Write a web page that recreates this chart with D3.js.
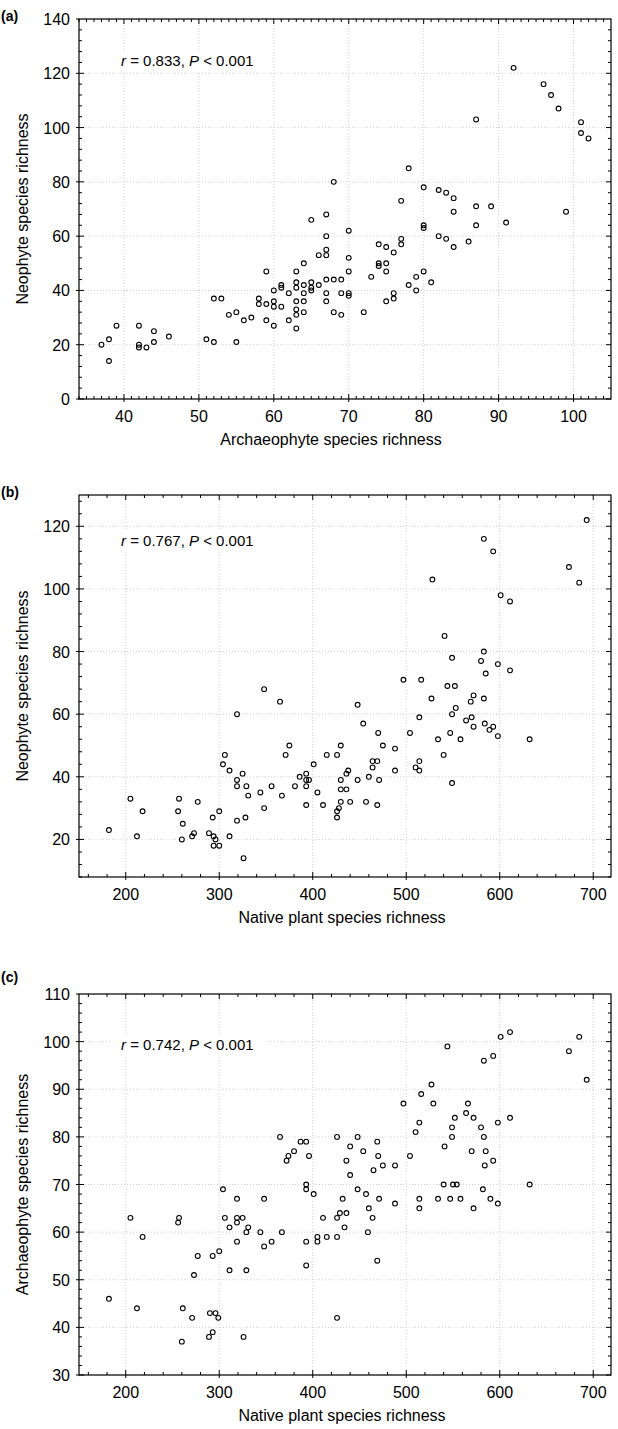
<!DOCTYPE html>
<html>
<head>
<meta charset="utf-8">
<script src="https://cdn.jsdelivr.net/npm/d3@7"></script>
<style>
  body { margin: 0; background: #fff; }
  text { font-family: "Liberation Sans", Arial, sans-serif; fill: #000; }
</style>
</head>
<body>
<div id="chart"></div>
<script>
// (a) archaeophyte vs neophyte richness
const archNeo = [
  [92,122],[96,116],[97,112],[98,107],[101,102],[101,98],[102,96],[87,103],[78,85],[68,80],
  [80,78],[82,77],[83,76],[84,74],[77,73],[87,71],[89,71],[84,69],[99,69],[65,66],
  [67,68],[70,62],[80,64],[80,63],[87,64],[91,65],[82,60],[83,59],[84,56],[86,58],
  [77,59],[77,57],[74,57],[75,56],[76,54],[67,60],[67,55],[67,53],[66,53],[70,52],
  [64,50],[74,50],[74,49],[75,50],[75,47],[70,47],[73,45],[80,47],[79,45],[81,43],
  [78,42],[79,40],[67,44],[68,44],[69,44],[64,42],[65,43],[65,41],[66,42],[64,39],
  [65,40],[67,39],[69,39],[70,39],[70,38],[64,36],[63,36],[67,36],[75,36],[76,39],
  [76,37],[64,32],[68,32],[69,31],[72,32],[59,47],[63,47],[63,43],[63,41],[60,40],
  [61,42],[61,41],[62,39],[58,37],[58,35],[59,35],[60,36],[60,34],[61,34],[59,29],
  [60,27],[62,29],[63,33],[63,31],[63,26],[55,32],[54,31],[56,29],[57,30],[52,37],
  [53,37],[51,22],[52,21],[55,21],[46,23],[44,25],[44,21],[42,27],[42,20],[42,19],
  [43,19],[39,27],[38,22],[37,20],[38,14]
];

// (b) native vs neophyte richness
const nativeNeo = [
  [693,122],[583,116],[593,112],[674,107],[685,102],[528,103],[601,98],[611,96],[541,85],[583,80],
  [549,78],[580,77],[598,76],[585,73],[611,74],[497,71],[516,71],[544,69],[552,69],[527,65],
  [569,64],[572,66],[583,65],[553,62],[549,60],[514,59],[454,57],[448,63],[564,58],[570,59],
  [572,56],[584,57],[593,56],[589,55],[598,53],[547,54],[534,52],[558,52],[632,52],[504,54],
  [470,54],[475,50],[488,49],[430,50],[415,47],[426,47],[540,47],[464,45],[469,45],[464,43],
  [401,44],[438,42],[436,41],[488,42],[510,43],[514,45],[514,42],[460,40],[448,39],[471,39],
  [549,38],[430,39],[430,36],[436,36],[405,35],[393,41],[393,39],[396,39],[393,37],[393,31],
  [411,31],[430,32],[440,32],[457,32],[469,31],[428,30],[426,29],[426,27],[348,68],[365,64],
  [319,60],[375,50],[371,47],[304,44],[306,47],[311,42],[325,41],[319,39],[319,37],[329,37],
  [331,34],[344,35],[356,37],[367,34],[381,37],[386,40],[348,30],[319,26],[328,27],[293,27],
  [300,29],[326,14],[311,21],[289,22],[294,21],[296,20],[294,18],[300,18],[273,22],[271,21],
  [260,20],[261,25],[256,29],[257,33],[277,32],[205,33],[218,29],[212,21],[182,23]
];

// (c) native vs archaeophyte richness
const nativeArch = [
  [611,102],[601,101],[685,101],[674,98],[693,92],[544,99],[583,96],[593,97],[527,91],[516,89],
  [497,87],[529,87],[566,87],[564,85],[552,84],[572,84],[611,84],[598,83],[549,82],[580,82],
  [514,83],[510,81],[549,80],[583,80],[426,80],[448,80],[387,79],[393,79],[440,78],[469,79],
  [454,77],[541,78],[570,77],[585,77],[396,76],[470,76],[504,76],[436,75],[593,75],[584,74],
  [465,73],[475,74],[488,74],[440,72],[540,70],[550,70],[554,70],[632,70],[393,70],[393,69],
  [401,68],[448,69],[457,68],[432,67],[471,67],[514,67],[514,65],[534,67],[547,67],[558,67],
  [582,69],[590,67],[598,66],[488,66],[572,65],[460,65],[464,63],[411,63],[426,63],[429,64],
  [436,64],[434,61],[459,60],[393,58],[405,58],[405,59],[415,59],[426,59],[393,53],[469,54],
  [426,42],[365,80],[372,75],[374,76],[380,77],[319,67],[348,67],[304,69],[256,62],[257,63],
  [205,63],[218,59],[306,63],[319,63],[319,62],[325,63],[311,61],[331,61],[329,60],[344,60],
  [367,60],[319,58],[356,58],[348,57],[300,56],[293,55],[277,55],[311,52],[329,52],[273,51],
  [182,46],[212,44],[261,44],[271,42],[290,43],[296,43],[299,42],[293,39],[289,38],[260,37],
  [326,38]
];

const archTicks = [40, 50, 60, 70, 80, 90, 100];
const nativeTicks = [200, 300, 400, 500, 600, 700];
const neoTicksA = [0, 20, 40, 60, 80, 100, 120, 140];
const neoTicksB = [20, 40, 60, 80, 100, 120];
const archTicksC = [30, 40, 50, 60, 70, 80, 90, 100, 110];

const stats = ["0.833", "0.767", "0.742"];

const width = 618, height = 1429;
const left = 79, right = 611;

const svg = d3.select("#chart").append("svg")
    .attr("width", width)
    .attr("height", height);

svg.append("rect").attr("width", width).attr("height", height).attr("fill", "#fff");

const panels = [
  { label: "(a)", labelY: 21, top: 19, bottom: 399, data: archNeo,
    xDomain: [34, 105], yDomain: [0, 140], xTicks: archTicks, yTicks: neoTicksA,
    xMinor: 1, yMinor: 4, stat: stats[0], statY: 66, xTitleX: 331,
    xTitle: "Archaeophyte species richness", yTitle: "Neophyte species richness" },
  { label: "(b)", labelY: 497, top: 495, bottom: 877, data: nativeNeo,
    xDomain: [150, 719], yDomain: [8, 130], xTicks: nativeTicks, yTicks: neoTicksB,
    xMinor: 20, yMinor: 4, stat: stats[1], statY: 546, xTitleX: 342,
    xTitle: "Native plant species richness", yTitle: "Neophyte species richness" },
  { label: "(c)", labelY: 982, top: 994, bottom: 1375, data: nativeArch,
    xDomain: [150, 719], yDomain: [30, 110], xTicks: nativeTicks, yTicks: archTicksC,
    xMinor: 20, yMinor: 2, stat: stats[2], statY: 1050, xTitleX: 342,
    xTitle: "Native plant species richness", yTitle: "Archaeophyte species richness" }
];

panels.forEach(p => drawPanel(p));

function drawPanel(p) {
  const x = d3.scaleLinear().domain(p.xDomain).range([left, right]);
  const y = d3.scaleLinear().domain(p.yDomain).range([p.bottom, p.top]);
  const g = svg.append("g");

  // dotted grid
  g.selectAll(".vgrid").data(p.xTicks).join("line")
      .attr("x1", d => x(d)).attr("x2", d => x(d))
      .attr("y1", p.top).attr("y2", p.bottom)
      .attr("stroke", "#c4c4c4").attr("stroke-width", 0.8)
      .attr("stroke-dasharray", "1,2");
  g.selectAll(".hgrid").data(p.yTicks).join("line")
      .attr("x1", left).attr("x2", right)
      .attr("y1", d => y(d)).attr("y2", d => y(d))
      .attr("stroke", "#c4c4c4").attr("stroke-width", 0.8)
      .attr("stroke-dasharray", "1,2");

  // minor ticks on all four sides
  const xm = d3.range(Math.ceil(p.xDomain[0] / p.xMinor) * p.xMinor, p.xDomain[1], p.xMinor);
  const ym = d3.range(Math.ceil(p.yDomain[0] / p.yMinor) * p.yMinor, p.yDomain[1], p.yMinor);
  const tick = g.append("g").attr("stroke", "#000").attr("stroke-width", 1);
  xm.forEach(v => {
    const len = p.xTicks.includes(v) ? 5 : 3;
    tick.append("line").attr("x1", x(v)).attr("x2", x(v)).attr("y1", p.bottom).attr("y2", p.bottom - len);
    tick.append("line").attr("x1", x(v)).attr("x2", x(v)).attr("y1", p.top).attr("y2", p.top + len);
  });
  ym.forEach(v => {
    const len = p.yTicks.includes(v) ? 5 : 3;
    tick.append("line").attr("x1", left).attr("x2", left + len).attr("y1", y(v)).attr("y2", y(v));
    tick.append("line").attr("x1", right).attr("x2", right - len).attr("y1", y(v)).attr("y2", y(v));
  });
  p.yTicks.forEach(v => {
    tick.append("line").attr("x1", left - 3).attr("x2", left).attr("y1", y(v)).attr("y2", y(v));
  });
  p.xTicks.forEach(v => {
    tick.append("line").attr("x1", x(v)).attr("x2", x(v)).attr("y1", p.bottom).attr("y2", p.bottom + 3);
  });

  // frame
  g.append("rect")
      .attr("x", left).attr("y", p.top)
      .attr("width", right - left).attr("height", p.bottom - p.top)
      .attr("fill", "none").attr("stroke", "#000").attr("stroke-width", 1.2);

  // tick labels
  g.selectAll(".xl").data(p.xTicks).join("text")
      .attr("x", d => x(d)).attr("y", p.bottom + 23)
      .attr("text-anchor", "middle").style("font-size", "16px")
      .text(d => d);
  g.selectAll(".yl").data(p.yTicks).join("text")
      .attr("x", left - 9).attr("y", d => y(d) + 6)
      .attr("text-anchor", "end").style("font-size", "16px")
      .text(d => d);

  // axis titles
  g.append("text")
      .attr("x", p.xTitleX).attr("y", p.bottom + 46)
      .attr("text-anchor", "middle").style("font-size", "16px")
      .text(p.xTitle);
  g.append("text")
      .attr("transform", `translate(28,${(p.top + p.bottom) / 2}) rotate(-90)`)
      .attr("text-anchor", "middle").style("font-size", "16px")
      .text(p.yTitle);

  // panel label
  g.append("text")
      .attr("x", 1).attr("y", p.labelY)
      .style("font-size", "14px").style("font-weight", "bold")
      .text(p.label);

  // correlation note with white box behind it
  g.append("rect")
      .attr("x", 112).attr("y", p.statY - 16)
      .attr("width", 156).attr("height", 22)
      .attr("fill", "#fff");
  const t = g.append("text")
      .attr("x", 121).attr("y", p.statY)
      .style("font-size", "15px");
  t.append("tspan").style("font-style", "italic").text("r");
  t.append("tspan").text(` = ${p.stat}, `);
  t.append("tspan").style("font-style", "italic").text("P");
  t.append("tspan").text(" < 0.001");

  // points
  g.selectAll(".pt").data(p.data).join("circle")
      .attr("cx", d => x(d[0])).attr("cy", d => y(d[1]))
      .attr("r", 2.4)
      .attr("fill", "none").attr("stroke", "#000").attr("stroke-width", 1.1);
}
</script>
</body>
</html>
